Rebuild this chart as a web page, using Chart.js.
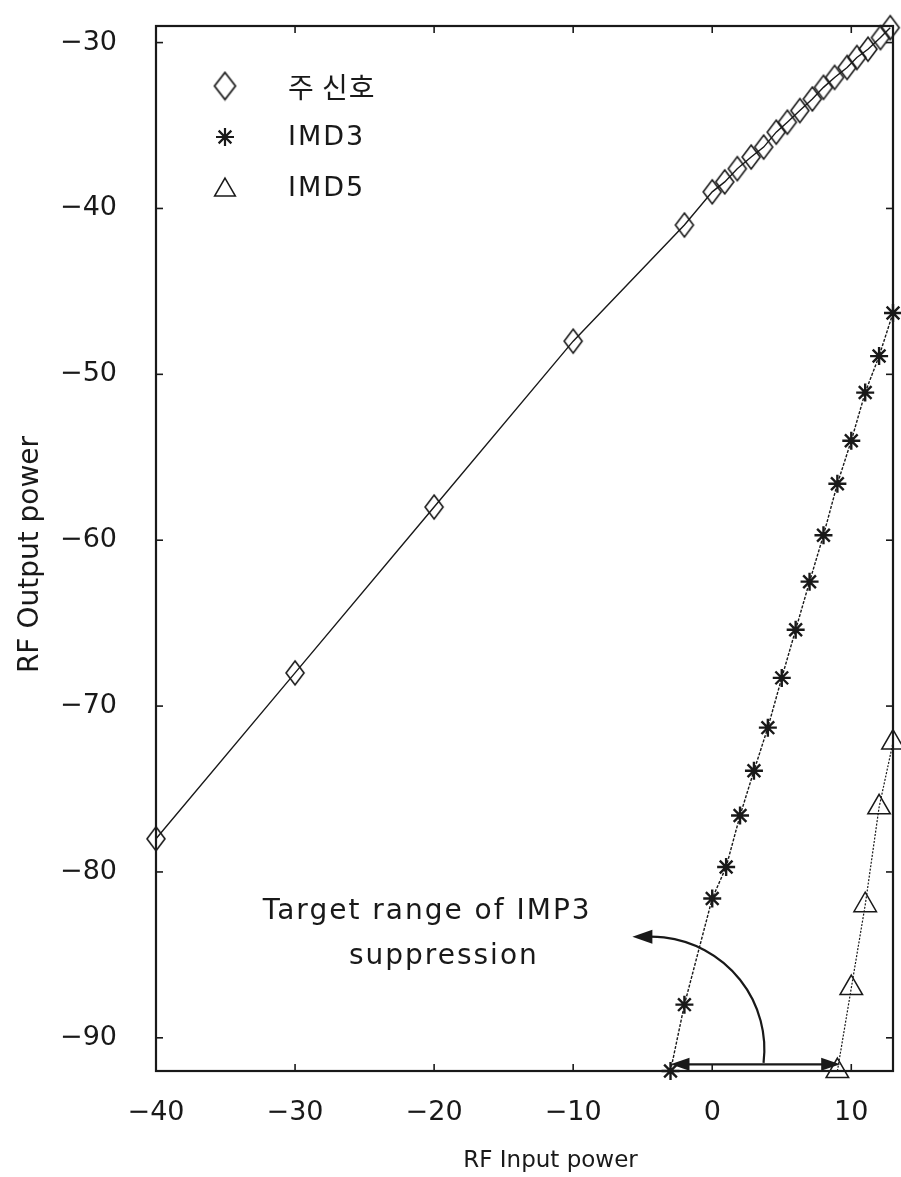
<!DOCTYPE html>
<html><head><meta charset="utf-8">
<script src="https://cdn.jsdelivr.net/npm/chart.js@4.4.1/dist/chart.umd.min.js"></script>
<style>html,body{margin:0;padding:0;background:#fff;}canvas{display:block;}</style>
</head><body>
<canvas id="c" width="901" height="1177"></canvas>
<script>
// ---------------- data ----------------
const seriesLabels = ['주 신호', 'IMD3', 'IMD5'];
const mainX = [-40, -30, -20, -10, -2, 0, 0.9, 1.8, 2.8, 3.7, 4.6, 5.4, 6.3, 7.2, 8.0, 8.8, 9.7, 10.4, 11.2, 12.1, 12.8];
const mainY = [-78, -68, -58, -48, -41, -39.0, -38.4, -37.6, -36.9, -36.3, -35.4, -34.8, -34.1, -33.4, -32.7, -32.1, -31.5, -30.9, -30.4, -29.7, -29.1];
const imd3X = [-3, -2, 0, 1, 2, 3, 4, 5, 6, 7, 8, 9, 10, 11, 12, 13];
const imd3Y = [-92, -88.0, -81.6, -79.7, -76.6, -73.9, -71.3, -68.3, -65.4, -62.5, -59.7, -56.6, -54.0, -51.1, -48.9, -46.3];
const imd5X = [9, 10, 11, 12, 13];
const imd5Y = [-92, -87.0, -82.0, -76.1, -72.2];
const xTicks = [-40, -30, -20, -10, 0, 10];
const yTicks = [-90, -80, -70, -60, -50, -40, -30];
const xTitle = 'RF Input power';
const yTitle = 'RF Output power';
const noteLines = ['Target range of IMP3', 'suppression'];
const spanX = [-3, 9.2];      // horizontal double arrow (data x range)
const spanY = -91.6;          // its data y

// ---------------- styling ----------------
const INK = '#191919';
const FONT = "'DejaVu Sans', sans-serif";
const KFONT = "'Noto Sans CJK KR', 'DejaVu Sans', sans-serif";
const fmt = v => String(v).replace('-', '\u2212');

function makeDiamond(w, h, lw) {
  const c = document.createElement('canvas');
  c.width = w + 4; c.height = h + 4;
  const g = c.getContext('2d');
  const cx = c.width / 2, cy = c.height / 2;
  g.strokeStyle = INK; g.lineWidth = lw;
  g.beginPath();
  g.moveTo(cx, cy - h / 2); g.lineTo(cx + w / 2, cy);
  g.lineTo(cx, cy + h / 2); g.lineTo(cx - w / 2, cy);
  g.closePath(); g.stroke();
  return c;
}
const diamondPlot = makeDiamond(18, 24, 1.6);
const diamondLegend = makeDiamond(21, 27, 1.7);

const toXY = (xs, ys) => xs.map((x, i) => ({ x, y: ys[i] }));

const decor = {
  id: 'decor',
  afterDatasetsDraw(chart) {
    const { ctx, chartArea: a, scales: { x, y } } = chart;
    const line = (x1, y1, x2, y2) => { ctx.beginPath(); ctx.moveTo(x1, y1); ctx.lineTo(x2, y2); ctx.stroke(); };
    ctx.save();
    ctx.strokeStyle = INK; ctx.fillStyle = INK;
    // frame
    ctx.lineWidth = 2.2;
    ctx.strokeRect(a.left, a.top, a.right - a.left, a.bottom - a.top);
    // inward tick marks
    ctx.lineWidth = 1.6;
    x.ticks.forEach(t => { const p = x.getPixelForValue(t.value); line(p, a.bottom, p, a.bottom - 7); line(p, a.top, p, a.top + 7); });
    y.ticks.forEach(t => { const p = y.getPixelForValue(t.value); line(a.left, p, a.left + 7, p); line(a.right, p, a.right - 7, p); });

    // axis titles
    ctx.font = `23px ${FONT}`; ctx.textAlign = 'center'; ctx.textBaseline = 'middle';
    ctx.fillText(xTitle, (a.left + a.right) / 2 + 26, a.bottom + 90);
    ctx.save();
    ctx.translate(31, (a.top + a.bottom) / 2 + 6);
    ctx.rotate(-Math.PI / 2);
    ctx.font = `28px ${FONT}`;
    ctx.fillText(yTitle, 0, 0);
    ctx.restore();

    // legend
    const lx = a.left + 69, ly = a.top + 60, step = 51;
    chart.data.datasets.forEach((ds, i) => {
      const cy = ly + i * step;
      ctx.save();
      ctx.strokeStyle = INK; ctx.fillStyle = 'rgba(0,0,0,0)';
      const ps = i === 0 ? diamondLegend : ds.pointStyle;
      const r = i === 1 ? 9 : 12;
      ctx.lineWidth = i === 1 ? 2.2 : 1.5;
      Chart.helpers.drawPoint(ctx, { pointStyle: ps, radius: r, rotation: 0, borderWidth: ctx.lineWidth }, lx, cy + (i === 2 ? 2 : 0));
      ctx.restore();
      ctx.fillStyle = INK;
      ctx.textAlign = 'left'; ctx.textBaseline = 'middle';
      if (i === 0) { ctx.font = `28px ${KFONT}`; ctx.letterSpacing = '1px'; }
      else { ctx.font = `27px ${FONT}`; ctx.letterSpacing = '2px'; }
      ctx.fillText(ds.label, lx + 63, cy + 1);
      ctx.letterSpacing = '0px';
    });

    // annotation text
    ctx.font = `28px ${FONT}`; ctx.letterSpacing = '2px'; ctx.textAlign = 'center';
    ctx.fillText(noteLines[0], x.getPixelForValue(-20.5), y.getPixelForValue(-82.4));
    ctx.fillText(noteLines[1], x.getPixelForValue(-19.3), y.getPixelForValue(-85.1));
    ctx.letterSpacing = '0px';

    // horizontal double arrow
    const x1 = x.getPixelForValue(spanX[0]), x2 = x.getPixelForValue(spanX[1]), yy = y.getPixelForValue(spanY);
    ctx.lineWidth = 2.4;
    line(x1 + 10, yy, x2 - 10, yy);
    const head = (tx, ty, dir, len, hw) => {
      ctx.beginPath(); ctx.moveTo(tx, ty);
      ctx.lineTo(tx + dir * len, ty - hw); ctx.lineTo(tx + dir * len, ty + hw); ctx.closePath(); ctx.fill();
    };
    head(x1, yy, 1, 19, 6.5);
    head(x2, yy, -1, 19, 6.5);

    // curved arrow (quarter ellipse)
    const cx = x.getPixelForValue(-4.45), cyy = y.getPixelForValue(-90.7);
    const rx = x.getPixelForValue(-4.45 + 8.2) - cx, ry = cyy - y.getPixelForValue(-90.7 + 6.8);
    ctx.lineWidth = 2.2;
    ctx.beginPath();
    ctx.ellipse(cx, cyy, rx, ry, 0, 0.12, -Math.PI / 2, true);
    ctx.stroke();
    head(cx - 18, cyy - ry, 1, 20, 7);
    ctx.restore();
  }
};

new Chart(document.getElementById('c'), {
  type: 'scatter',
  data: {
    datasets: [
      { label: seriesLabels[0], data: toXY(mainX, mainY), showLine: true, borderColor: INK, borderWidth: 1.4,
        pointStyle: diamondPlot, pointRadius: 12, clip: false, tension: 0 },
      { label: seriesLabels[1], data: toXY(imd3X, imd3Y), showLine: true, borderColor: INK, borderWidth: 1.4,
        borderDash: [3, 1.5], pointStyle: 'star', pointRadius: 9, pointBorderWidth: 2.4,
        pointBorderColor: INK, pointBackgroundColor: 'rgba(0,0,0,0)', clip: false, tension: 0 },
      { label: seriesLabels[2], data: toXY(imd5X, imd5Y), showLine: true, borderColor: INK, borderWidth: 1.2,
        borderDash: [2, 1.5], pointStyle: 'triangle', pointRadius: 13, pointBorderWidth: 1.5,
        pointBorderColor: INK, pointBackgroundColor: 'rgba(0,0,0,0)', clip: false, tension: 0 }
    ]
  },
  options: {
    responsive: false, animation: false,
    layout: { autoPadding: false, padding: { left: 0, right: 8, top: 26, bottom: 0 } },
    plugins: { legend: { display: false }, tooltip: { enabled: false } },
    scales: {
      x: {
        type: 'linear', min: -40, max: 13,
        afterBuildTicks: s => { s.ticks = xTicks.map(v => ({ value: v })); },
        afterFit: s => { s.height = 106; s.paddingLeft = 0; s.paddingRight = 0; },
        grid: { display: false }, border: { display: false },
        ticks: { padding: 18, color: INK, font: { family: FONT, size: 27 }, callback: v => fmt(v), maxRotation: 0, autoSkip: false }
      },
      y: {
        type: 'linear', min: -92, max: -29,
        afterBuildTicks: s => { s.ticks = yTicks.map(v => ({ value: v })); },
        afterFit: s => { s.width = 156; s.paddingTop = 0; s.paddingBottom = 0; },
        grid: { display: false }, border: { display: false },
        ticks: { padding: 31, color: INK, font: { family: FONT, size: 27 }, callback: v => fmt(v), autoSkip: false }
      }
    }
  },
  plugins: [decor]
});
</script>
</body></html>
